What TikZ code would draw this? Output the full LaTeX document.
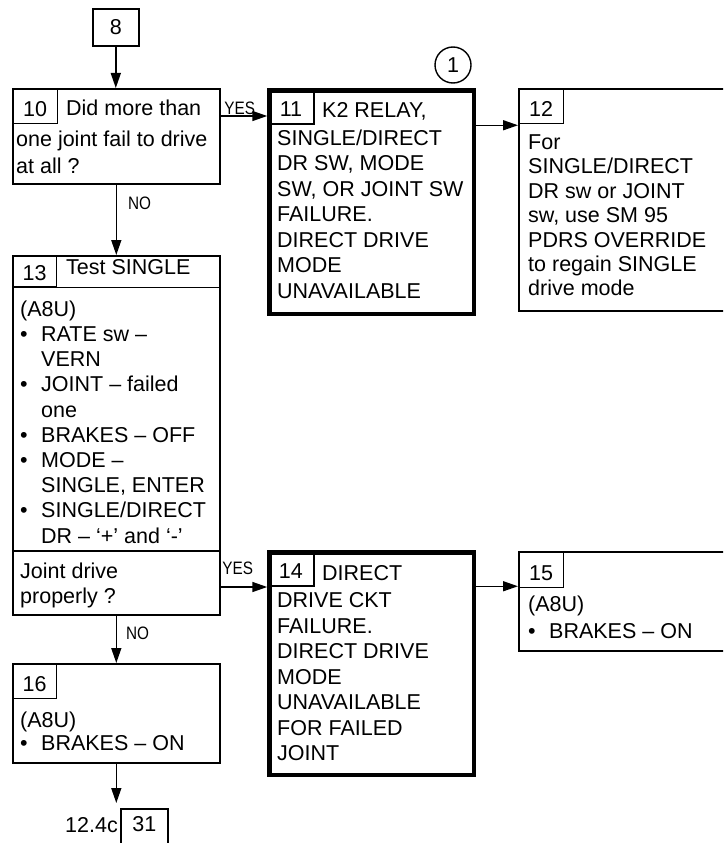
\documentclass[tikz,border=0pt]{standalone}
\usepackage{fontspec}
\setmainfont{Liberation Sans}
\newfontfamily\narrowfont[FakeStretch=0.85]{Liberation Sans}
\usetikzlibrary{arrows.meta, positioning}
\newcommand{\bitem}{\makebox[21pt][l]{\textbullet}}
\newcommand{\bcont}{\hspace*{21pt}}

\begin{document}
\begin{tikzpicture}[
  x=1pt, y=-1pt,
  font=\fontsize{21.5}{25.5}\selectfont,
  box/.style={rectangle, draw, line width=1.6pt, inner sep=0pt, anchor=north west},
  thickbox/.style={rectangle, draw, line width=4.5pt, inner sep=0pt, anchor=north west, minimum width=204.5pt},
  numcell/.style={rectangle, draw, line width=1.4pt, inner sep=0pt, anchor=north west, minimum width=45pt, minimum height=35pt, text height=21pt, text depth=0pt},
  txt/.style={inner sep=0pt, anchor=north west, align=left},
  arrow/.style={-{Triangle[length=15pt, width=10pt]}, line width=1.5pt},
  answer/.style={font=\narrowfont\fontsize{18}{20}\selectfont, inner sep=0pt}
]
  \fill[white] (0,0) rectangle (723,843);
  \useasboundingbox (0,0) rectangle (723,843);
  \clip (0,0) rectangle (723,843);

  % Boxes
  \node (b8) [box, minimum width=46pt, minimum height=37pt] at (92,8) {8};

  \node (b10) [box, minimum width=207pt, minimum height=95pt] at (12,88) {};
  \node (c10) [numcell] at (b10.north west) {10};
  \node [txt, anchor=base west] at (66,115.5) {Did more than};
  \node [txt, font=\fontsize{21.5}{27}\selectfont] at (16,130.5) {one joint fail to drive\\at all ?};

  \node (b11) [thickbox, minimum height=223.5pt] at (267.25,88.25) {};
  \node (c11) [numcell, minimum width=46pt] at (b11.north west) {11};
  \node [txt, anchor=base west] at (322,117.5) {K2 RELAY,};
  \node [txt] at (277,129.5) {SINGLE/DIRECT\\DR SW, MODE\\SW, OR JOINT SW\\FAILURE.\\DIRECT DRIVE\\MODE\\UNAVAILABLE};
  \node (mark1) [circle, draw, line width=1.4pt, minimum size=36pt, inner sep=0pt] at (453,65) {1};

  \node (b12) [box, minimum width=242pt, minimum height=222pt] at (518,88) {};
  \node (c12) [numcell] at (b12.north west) {12};
  \node [txt, font=\fontsize{21.5}{24.4}\selectfont] at (528,134.5) {For\\SINGLE/DIRECT\\DR sw or JOINT\\sw, use SM 95\\PDRS OVERRIDE\\to regain SINGLE\\drive mode};

  \node (b13) [box, minimum width=207pt, minimum height=359pt] at (12,255) {};
  \node (c13) [numcell, minimum width=44pt, minimum height=31pt, text height=19pt] at (b13.north west) {13};
  \node [txt, anchor=base west] at (66,274.5) {Test SINGLE};
  \node [txt, font=\fontsize{21.5}{25.2}\selectfont] at (20,300.5) {(A8U)\\\bitem RATE sw –\\\bcont VERN\\\bitem JOINT – failed\\\bcont one\\\bitem BRAKES – OFF\\\bitem MODE –\\\bcont SINGLE, ENTER\\\bitem SINGLE/DIRECT\\\bcont DR – ‘+’ and ‘-’};
  \coordinate (s13) at (12,551);
  \draw [line width=1.6pt] (c13.south west) -- (c13.south west -| b13.east);
  \draw [line width=1.6pt] (s13) -- (s13 -| b13.east);
  \node [txt] at (20,562.5) {Joint drive\\properly ?};

  \node (b14) [thickbox, minimum height=222.5pt] at (267.25,550.25) {};
  \node (c14) [numcell, minimum width=46pt] at (b14.north west) {14};
  \node [txt, anchor=base west] at (322,580.5) {DIRECT};
  \node [txt] at (277,592.5) {DRIVE CKT\\FAILURE.\\DIRECT DRIVE\\MODE\\UNAVAILABLE\\FOR FAILED\\JOINT};

  \node (b15) [box, minimum width=242pt, minimum height=99pt] at (518,551) {};
  \node (c15) [numcell, minimum height=36pt] at (b15.north west) {15};
  \node [txt, font=\fontsize{21.5}{27}\selectfont] at (528,595.5) {(A8U)\\\bitem BRAKES – ON};

  \node (b16) [box, minimum width=207pt, minimum height=99pt] at (12,663) {};
  \node (c16) [numcell, minimum width=44pt] at (b16.north west) {16};
  \node [txt, font=\fontsize{21.5}{23}\selectfont] at (20,711.5) {(A8U)\\\bitem BRAKES – ON};

  \node (b31) [box, minimum width=47pt, minimum height=38pt, text height=15pt, text depth=8pt] at (120,808) {31};
  \node (go31) [inner sep=0pt, anchor=east] at ([xshift=-2pt, yshift=-17pt]b31.north west) {12.4c};

  % Connectors
  \draw [arrow] (b8.south) -- (b8.south |- b10.north);
  \draw [arrow] ([yshift=-28pt]b10.north east) -- node[answer, anchor=south west, pos=0, xshift=3pt, yshift=1pt] {YES} ([yshift=-28pt]b10.north east -| b11.west);
  \draw [arrow] (b10.south) -- node[answer, anchor=north west, pos=0, xshift=11pt, yshift=-12pt] {NO} (b10.south |- b13.north);
  \draw [arrow] ([yshift=-37pt]b11.north east) -- ([yshift=-37pt]b11.north east -| b12.west);
  \draw [arrow] ([yshift=-332pt]b13.north east) -- node[answer, anchor=south west, pos=0, xshift=1pt, yshift=12pt] {YES} ([yshift=-332pt]b13.north east -| b14.west);
  \draw [arrow] ([yshift=-36pt]b14.north east) -- ([yshift=-36pt]b14.north east -| b15.west);
  \draw [arrow] (b13.south) -- node[answer, anchor=north west, pos=0, xshift=9pt, yshift=-11pt] {NO} (b13.south |- b16.north);
  \draw [arrow, shorten >=5pt] (b16.south) -- (b16.south |- b31.north);
\end{tikzpicture}
\end{document}
